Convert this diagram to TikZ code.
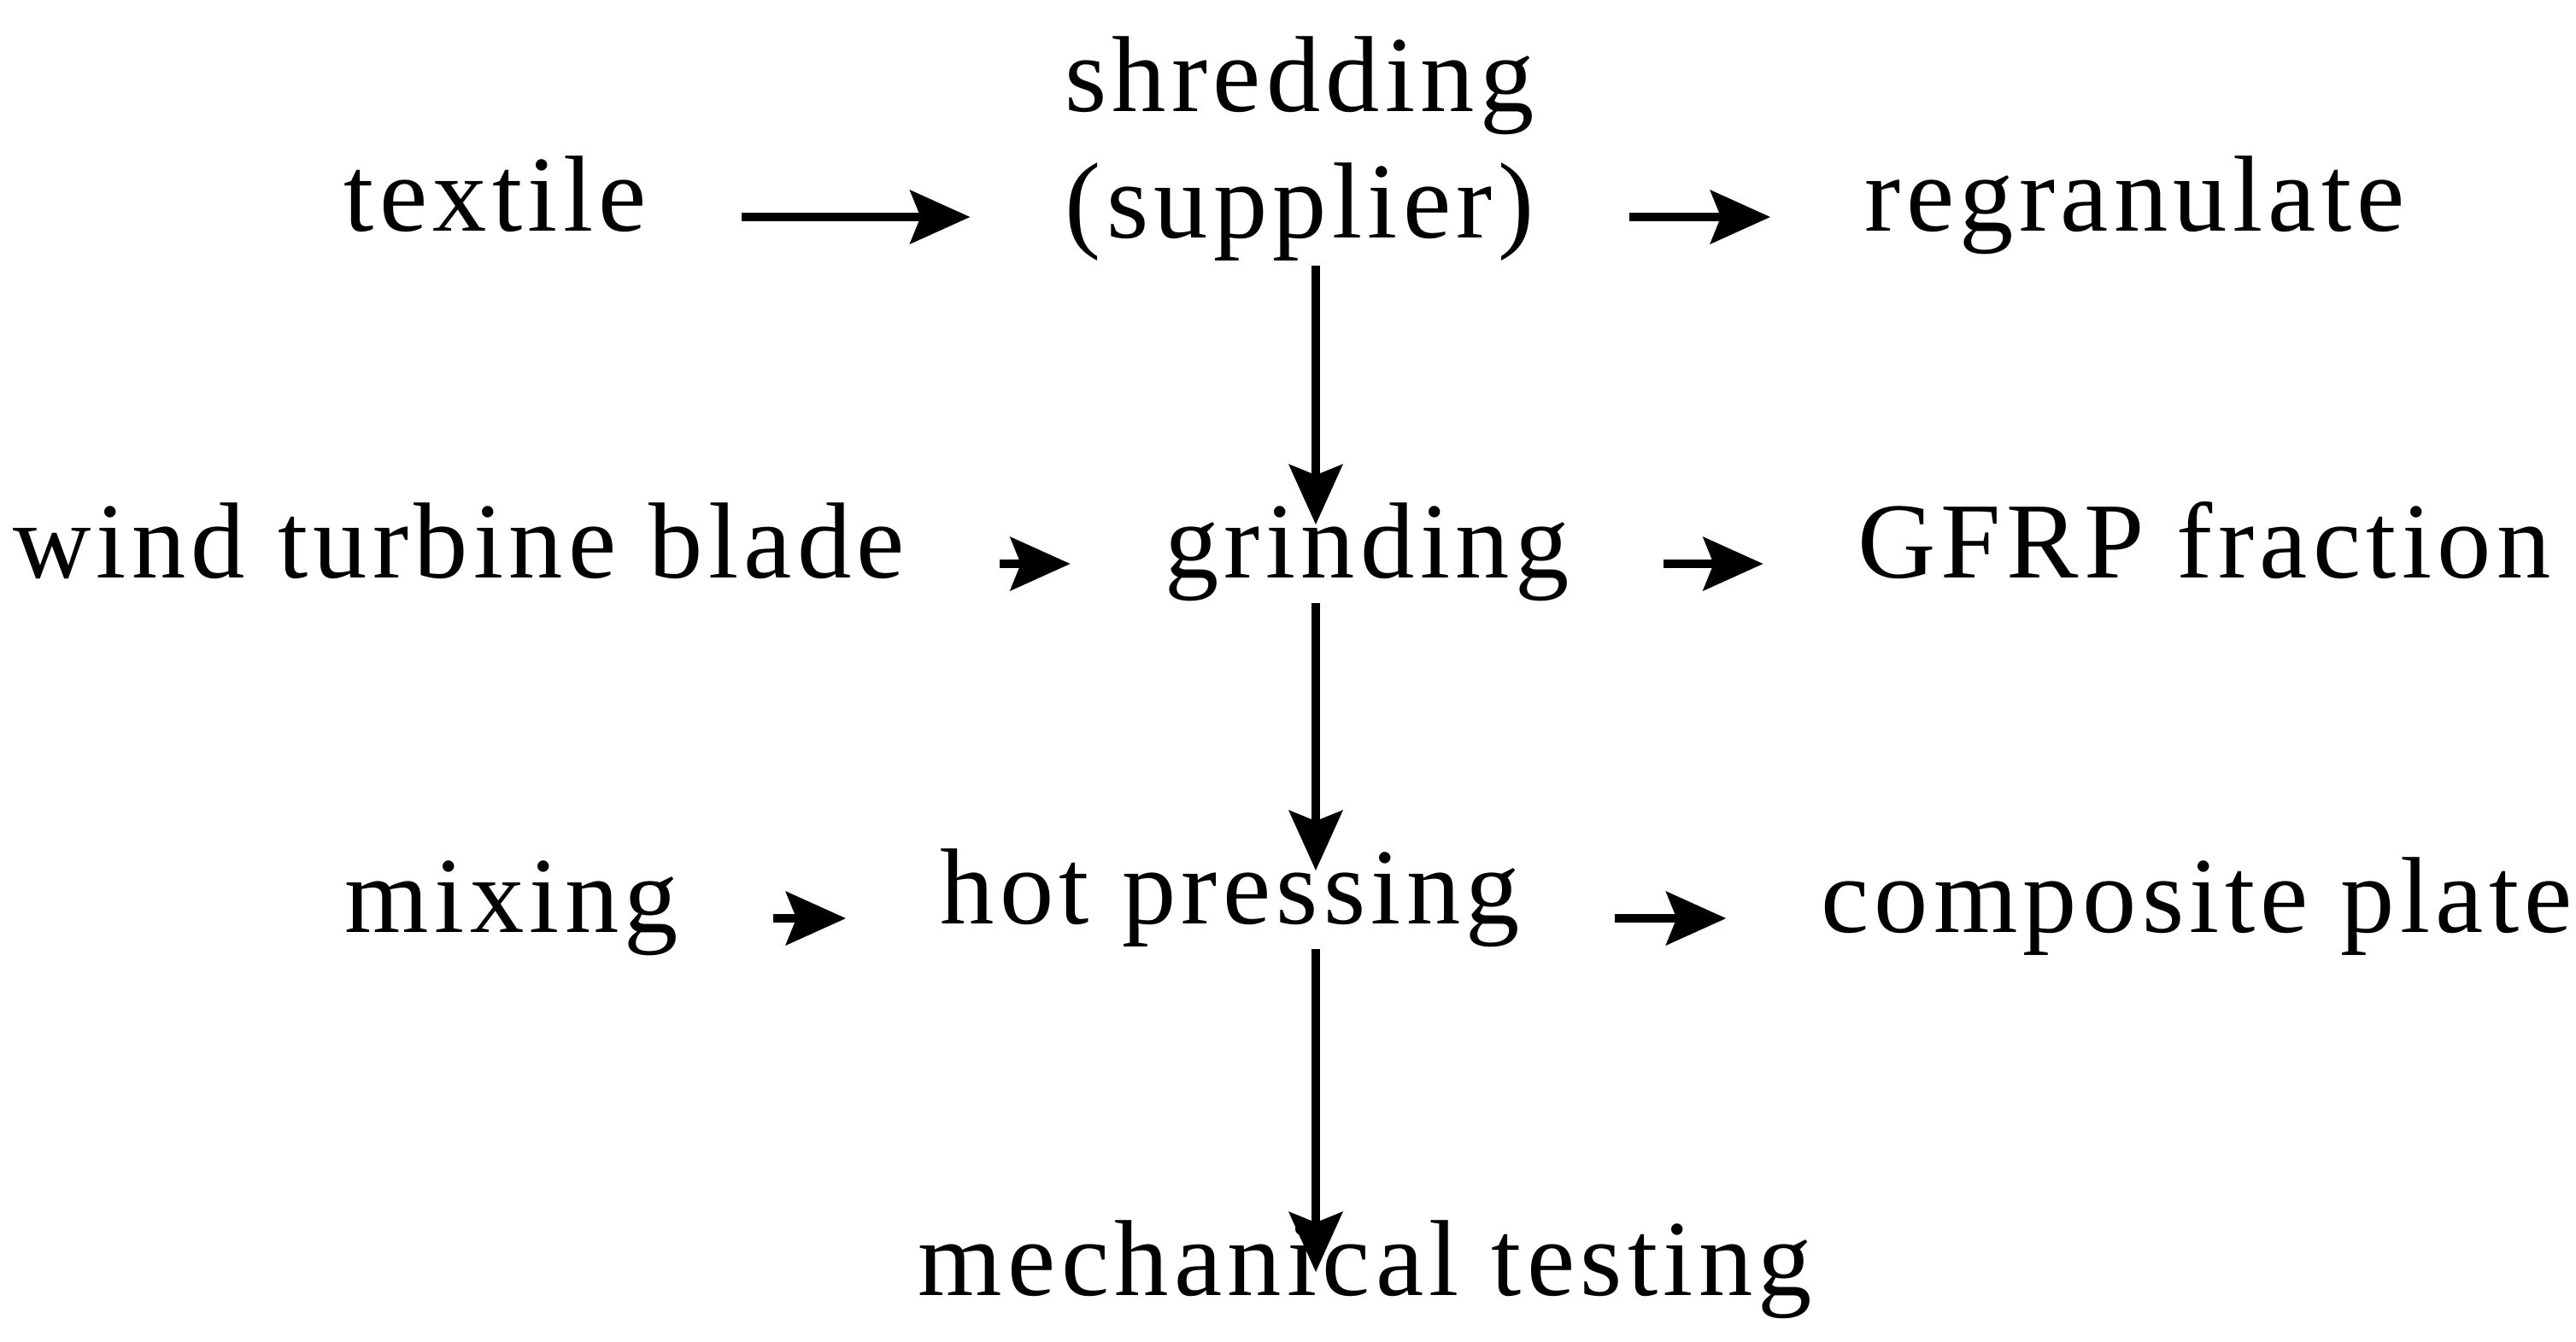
\documentclass[tikz,border=0pt]{standalone}
\usepackage{fontspec}
\setmainfont[LetterSpace=5]{Liberation Serif}
\usetikzlibrary{arrows.meta,calc}
\tikzset{
    txt/.style = {inner sep=0pt, font=\fontsize{36}{42}\selectfont},
    stage/.style = {txt, text height=2.3ex, text depth=0.2ex, anchor=base},
    tip/.style = {line width=3pt, -{Stealth[length=0.7cm,width=0.62cm,inset=0.12cm]}},
    flow/.style = {draw, tip, shorten <=1.1cm, shorten >=1.1cm},
    down/.style = {draw, tip, shorten <=0.25cm, shorten >=0.25cm}
}
\begin{document}
\begin{tikzpicture}
    \useasboundingbox (0,0) rectangle (30.15,15.71);
        \node [stage] (textile) at (5.80,13.00) {textile};
        \node [txt, align=center] (shred) at (15.21,13.97) {shredding\\(supplier)};
        \node [stage] (regran) at (24.99,13.00) {regranulate};
        \node [stage] (wind) at (5.37,8.94) {wind turbine blade};
        \node [stage] (grind) at (16.00,8.94) {grinding};
        \node [stage] (gfrp) at (25.80,8.94) {GFRP fraction};
        \node [stage] (mix) at (5.99,4.79) {mixing};
        \node [stage] (hot) at (14.40,4.89) {hot pressing};
        \node [stage] (plate) at (25.71,4.79) {composite plate};
        \node [stage] (test) at (15.98,0.54) {mechanical testing};
        \coordinate (axis) at (15.40,0);
        % horizontal flow
        \draw [flow] (textile.east) -- (shred.west |- textile.east);
        \draw [flow] (shred.east |- textile.east) -- (regran.west);
        \draw [flow] (wind.east) -- (grind.west);
        \draw [flow] (grind.east) -- (gfrp.west);
        \draw [flow] (mix.east) -- (hot.west |- mix.east);
        \draw [flow] (hot.east |- plate.west) -- (plate.west);
        % vertical flow
        \draw [down, shorten <=0.05cm] (shred.south -| axis) -- (grind.north -| axis);
        \draw [down] (grind.south -| axis) -- (hot.north -| axis);
        \draw [down, shorten >=-0.1cm] (hot.south -| axis) -- (test.north -| axis);
    \end{tikzpicture}
\end{document}
